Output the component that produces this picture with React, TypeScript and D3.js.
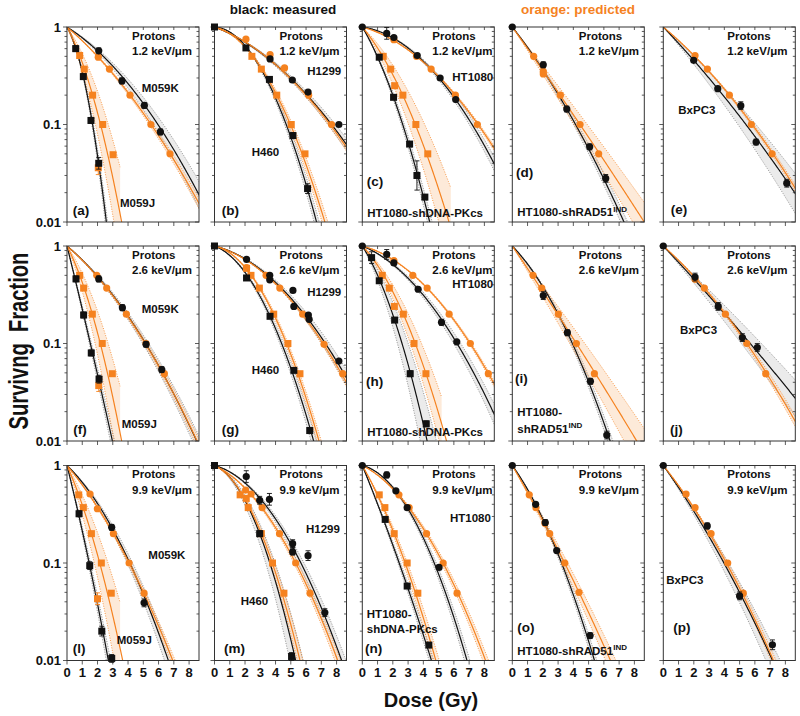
import React from "react";
import * as d3 from "d3";

// ---------------- data ----------------
const doseTicks = [0, 1, 2, 3, 4, 5, 6, 7, 8];
const sfMajor = [1, 0.1, 0.01];
const sfMajorLabels = ["1", "0.1", "0.01"];
const letValues = ["1.2", "2.6", "9.9"];
const panelLetters = ["a", "b", "c", "d", "e", "f", "g", "h", "i", "j", "l", "m", "n", "o", "p"];

// points: [dose Gy, surviving fraction, optional error half-length in log10]
// fits: [alpha, beta, relative band spread, band end dose] order: circle meas, circle pred, square meas, square pred

// (a) M059K (circles) / M059J (squares), 1.2 keV/um
const a_circMeas = [[2.08, 0.57, 0.03], [3.6, 0.28, 0.03], [5.07, 0.157, 0.03], [6.12, 0.084, 0.03]];
const a_circPred = [[2.05, 0.49], [2.78, 0.37], [4.13, 0.2], [5.5, 0.1], [6.75, 0.05]];
const a_sqMeas = [[0.57, 0.6, 0.03], [1.07, 0.31, 0.03], [1.57, 0.11, 0.03], [2.08, 0.04, 0.06]];
const a_sqPred = [[2.05, 0.036, 0.07], [0.83, 0.51], [1.13, 0.37], [1.68, 0.2], [2.34, 0.1], [3.02, 0.049]];
const a_fits = [[0.228, 0.0266, 0.08, 8.7], [0.306, 0.0203, 0.03, 8.7], [0.603, 0.458, 0.05, 8.7], [0.668, 0.1725, 0.25, 3.5]];

// (b) H1299 / H460
const b_circMeas = [[3.64, 0.47], [5.1, 0.286], [6.13, 0.215], [8.15, 0.1]];
const b_circPred = [[2.06, 0.75], [3.64, 0.52], [4.59, 0.38], [6.17, 0.2], [7.67, 0.1]];
const b_sqMeas = [[0, 1], [2.06, 0.61], [3.6, 0.29], [5.14, 0.077, 0.03], [6.1, 0.022, 0.05]];
const b_sqPred = [[2.45, 0.5], [3.07, 0.37], [4.08, 0.2], [5.03, 0.1], [5.93, 0.05]];
const b_fits = [[0.136, 0.0214, 0.05, 8.7], [0.13, 0.023, 0.03, 8.7], [0.02, 0.1, 0.05, 8.7], [0.08, 0.077, 0.05, 8.7]];

// (c) HT1080 / HT1080-shDNA-PKcs
const c_circMeas = [[0, 1], [1.6, 0.86, 0.06], [2.07, 0.78], [3.6, 0.51], [5.1, 0.3], [6.12, 0.18]];
const c_circPred = [[2.07, 0.74], [3.55, 0.5], [4.51, 0.37], [6.1, 0.2], [7.54, 0.1]];
const c_sqMeas = [[1.11, 0.49], [2.05, 0.19], [3.1, 0.063], [3.58, 0.03, 0.15], [4.1, 0.018]];
const c_sqPred = [[1.37, 0.5], [1.86, 0.37], [2.12, 0.25], [2.66, 0.2], [3.51, 0.1], [4.29, 0.05]];
const c_fits = [[0.054, 0.037, 0.05, 8.7], [0.1, 0.0268, 0.02, 8.7], [0.61, 0.098, 0.05, 8.7], [0.43, 0.067, 0.2, 5.8]];

// (d) HT1080-shRAD51IND
const d_circMeas = [[0, 1], [2.03, 0.41, 0.03], [3.57, 0.144, 0.03], [5.07, 0.059, 0.03], [6.12, 0.028, 0.04]];
const d_circPred = [[1.4, 0.5], [2.03, 0.35], [2.03, 0.33], [3.15, 0.2], [4.44, 0.1], [5.66, 0.05]];
const d_fits = [[0.46, 0.0231, 0.04, 8.7], [0.505, 0.0032, 0.1, 8.7]];

// (e) BxPC3
const e_circMeas = [[1.99, 0.455], [3.57, 0.233], [5.08, 0.156, 0.04], [6.08, 0.066, 0.03], [8.09, 0.025, 0.04]];
const e_circPred = [[2.08, 0.51], [2.89, 0.37], [4.33, 0.2], [5.77, 0.1], [7.13, 0.05]];
const e_fits = [[0.376, 0.0091, 0.12, 8.7], [0.302, 0.016, 0.02, 8.7]];

// (f) M059K / M059J, 2.6 keV/um
const f_circMeas = [[2.08, 0.46, 0.03], [3.63, 0.233, 0.03], [5.18, 0.098, 0.03], [6.21, 0.054, 0.03]];
const f_circPred = [[1.95, 0.5], [2.6, 0.37], [3.89, 0.2], [5.18, 0.1], [6.38, 0.049]];
const f_sqMeas = [[0.59, 0.46, 0.03], [1.09, 0.196, 0.03], [1.59, 0.08, 0.03], [2.1, 0.043, 0.04]];
const f_sqPred = [[2.08, 0.037, 0.06], [0.83, 0.5], [1.09, 0.37], [1.66, 0.2], [2.31, 0.1], [2.97, 0.049]];
const f_fits = [[0.302, 0.0282, 0.05, 8.7], [0.31, 0.027, 0.03, 8.7], [1.46, 0.0296, 0.05, 8.7], [0.695, 0.165, 0.25, 3.5]];

// (g) H1299 / H460
const g_circMeas = [[2.1, 0.73], [3.62, 0.5], [3.62, 0.45], [5.14, 0.35], [5.2, 0.24], [6.15, 0.196], [6.2, 0.177], [8.15, 0.066]];
const g_circPred = [[2.1, 0.6], [3.38, 0.5], [4.28, 0.37], [5.78, 0.2], [7.18, 0.098], [8.4, 0.049]];
const g_sqMeas = [[0, 1], [2.1, 0.47], [3.64, 0.19], [5.2, 0.053], [6.24, 0.0128, 0.03]];
const g_sqPred = [[2.1, 0.59], [2.39, 0.5], [2.94, 0.37], [3.88, 0.2], [4.81, 0.1], [5.6, 0.049]];
const g_fits = [[0.09, 0.0312, 0.06, 8.7], [0.093, 0.0324, 0.03, 8.7], [0.135, 0.0883, 0.05, 8.7], [0.078, 0.0868, 0.04, 8.7]];

// (h) HT1080 / HT1080-shDNA-PKcs
const h_circMeas = [[0, 1], [1.6, 0.82, 0.05], [2.07, 0.67], [3.66, 0.36], [5.19, 0.165, 0.03], [6.19, 0.104]];
const h_circPred = [[2.07, 0.71], [3.31, 0.5], [4.25, 0.37], [5.69, 0.2], [7.08, 0.1], [8.26, 0.049]];
const h_sqMeas = [[0.61, 0.76, 0.06], [1.11, 0.44], [2.12, 0.174], [3.14, 0.049, 0.03], [4.19, 0.015, 0.03]];
const h_sqPred = [[1.31, 0.5], [1.77, 0.37], [2.1, 0.24], [2.69, 0.2], [3.39, 0.1], [4.17, 0.049]];
const h_fits = [[0.145, 0.0364, 0.06, 8.7], [0.096, 0.0325, 0.02, 8.7], [0.569, 0.121, 0.18, 8.7], [0.374, 0.0834, 0.15, 5.2]];

// (i) HT1080-shRAD51IND
const i_circMeas = [[2.03, 0.31, 0.04], [3.61, 0.129, 0.03], [5.12, 0.041, 0.03], [6.19, 0.0115, 0.04]];
const i_circPred = [[1.36, 0.5], [1.93, 0.37], [3.02, 0.2], [4.2, 0.1], [5.38, 0.049]];
const i_fits = [[0.372, 0.054, 0.04, 8.7], [0.53, 0.00426, 0.12, 8.7]];

// (j) BxPC3
const j_circMeas = [[0, 1], [2.08, 0.48, 0.04], [3.6, 0.24, 0.04], [5.18, 0.115, 0.04], [6.16, 0.091, 0.04]];
const j_circPred = [[2.08, 0.455], [2.69, 0.37], [4.07, 0.2], [5.47, 0.1], [6.71, 0.049]];
const j_fits = [[0.382, 0.0039, 0.12, 8.7], [0.32, 0.0184, 0.03, 8.7]];

// (l) M059K / M059J, 9.9 keV/um
const l_circMeas = [[2.93, 0.232, 0.03], [5.05, 0.039, 0.04]];
const l_circPred = [[1.51, 0.51], [1.99, 0.36], [3.04, 0.2], [4.07, 0.1], [5.05, 0.049]];
const l_sqMeas = [[0.79, 0.32, 0.03], [1.49, 0.094, 0.04], [2.28, 0.02, 0.05], [2.93, 0.0105, 0.04]];
const l_sqPred = [[2.0, 0.043, 0.06], [0.77, 0.5], [1.07, 0.37], [1.6, 0.2], [2.25, 0.1], [2.9, 0.049]];
const l_fits = [[0.344, 0.0526, 0.06, 8.7], [0.425, 0.0345, 0.03, 8.7], [1.45, 0.092, 0.06, 8.7], [0.806, 0.125, 0.25, 3.5]];

// (m) H1299 / H460
const m_circMeas = [[2.08, 0.77, 0.06], [2.96, 0.44, 0.04], [3.6, 0.45, 0.06], [5.12, 0.158, 0.04], [5.12, 0.13, 0.03], [6.13, 0.119, 0.05], [7.23, 0.031, 0.04]];
const m_circPred = [[2.04, 0.56], [2.4, 0.51], [3.12, 0.37], [4.26, 0.2], [5.32, 0.1], [6.26, 0.049]];
const m_sqMeas = [[0, 1], [2.96, 0.2, 0.03], [5.05, 0.011, 0.04]];
const m_sqPred = [[1.68, 0.5], [2.08, 0.46], [2.21, 0.37], [3.07, 0.2], [3.8, 0.1], [4.55, 0.049]];
const m_fits = [[0.097, 0.0547, 0.06, 8.7], [0.167, 0.05, 0.04, 8.7], [0.14, 0.1365, 0.15, 8.7], [0.163, 0.1176, 0.06, 8.7]];

// (n) HT1080 / HT1080-shDNA-PKcs
const n_circMeas = [[0, 1], [1.6, 0.8, 0.03], [2.2, 0.55], [2.94, 0.37], [5.03, 0.09]];
const n_circPred = [[2.4, 0.5], [3.07, 0.37], [4.21, 0.2], [5.3, 0.1], [6.21, 0.049]];
const n_sqMeas = [[1.5, 0.28], [2.94, 0.058], [4.36, 0.0144]];
const n_sqPred = [[1.11, 0.5], [1.48, 0.37], [2.09, 0.2], [2.94, 0.1], [3.64, 0.049]];
const n_fits = [[0.088, 0.085, 0.05, 8.7], [0.179, 0.0484, 0.04, 8.7], [0.879, 0.0303, 0.04, 8.7], [0.628, 0.068, 0.06, 8.7]];

// (o) HT1080-shRAD51IND
const o_circMeas = [[0, 1], [1.53, 0.4], [2.16, 0.26, 0.03], [2.91, 0.134], [5.1, 0.018, 0.03]];
const o_circPred = [[1.11, 0.5], [1.55, 0.37], [2.14, 0.255], [2.45, 0.2], [3.44, 0.1], [4.37, 0.05]];
const o_fits = [[0.5, 0.066, 0.04, 8.7], [0.62, 0.0149, 0.06, 8.7]];

// (p) BxPC3
const p_circMeas = [[0, 1], [2.88, 0.24, 0.03], [5.0, 0.046, 0.04], [7.15, 0.0145, 0.05]];
const p_circPred = [[1.49, 0.51], [2.08, 0.37], [3.13, 0.2], [4.22, 0.1], [5.24, 0.049]];
const p_fits = [[0.5, 0.02, 0.08, 8.7], [0.45, 0.026, 0.03, 8.7]];

// ---------------- layout / style ----------------
const ORANGE = "#F5821F";
const BLACK = "#111111";
const FONT = "'Liberation Sans', Arial, Helvetica, sans-serif";
const COL_X = [67, 214.5, 362.3, 512.3, 663.3];
const ROW_Y = [27, 246, 465.5];
const PW = 132;
const PH = 195;
const XMAX = 8.65;

type Label = { t: string; x: number; y: number; sup?: string };
type PanelDef = {
  row: number;
  col: number;
  circMeas: number[][];
  circPred: number[][];
  sqMeas?: number[][];
  sqPred?: number[][];
  fits: number[][];
  letterPos: [number, number];
  labels: Label[];
  letX: number;
};

const panels: PanelDef[] = [
  { row: 0, col: 0, circMeas: a_circMeas, circPred: a_circPred, sqMeas: a_sqMeas, sqPred: a_sqPred, fits: a_fits, letterPos: [5.7, 188], labels: [{ t: "M059K", x: 74.7, y: 64.5 }, { t: "M059J", x: 53, y: 179.5 }], letX: 65 },
  { row: 0, col: 1, circMeas: b_circMeas, circPred: b_circPred, sqMeas: b_sqMeas, sqPred: b_sqPred, fits: b_fits, letterPos: [7.2, 188], labels: [{ t: "H1299", x: 92.8, y: 48 }, { t: "H460", x: 37.2, y: 129 }], letX: 65 },
  { row: 0, col: 2, circMeas: c_circMeas, circPred: c_circPred, sqMeas: c_sqMeas, sqPred: c_sqPred, fits: c_fits, letterPos: [4.4, 159], labels: [{ t: "HT1080", x: 90, y: 54 }, { t: "HT1080-shDNA-PKcs", x: 5, y: 190 }], letX: 70 },
  { row: 0, col: 3, circMeas: d_circMeas, circPred: d_circPred, fits: d_fits, letterPos: [3.7, 150], labels: [{ t: "HT1080-shRAD51", sup: "IND", x: 5, y: 189 }], letX: 66.5 },
  { row: 0, col: 4, circMeas: e_circMeas, circPred: e_circPred, fits: e_fits, letterPos: [7.4, 186.5], labels: [{ t: "BxPC3", x: 15, y: 87 }], letX: 64 },
  { row: 1, col: 0, circMeas: f_circMeas, circPred: f_circPred, sqMeas: f_sqMeas, sqPred: f_sqPred, fits: f_fits, letterPos: [6.3, 188], labels: [{ t: "M059K", x: 74.7, y: 66.5 }, { t: "M059J", x: 54.7, y: 182 }], letX: 65 },
  { row: 1, col: 1, circMeas: g_circMeas, circPred: g_circPred, sqMeas: g_sqMeas, sqPred: g_sqPred, fits: g_fits, letterPos: [7.2, 188], labels: [{ t: "H1299", x: 92.8, y: 50 }, { t: "H460", x: 37.2, y: 128 }], letX: 65 },
  { row: 1, col: 2, circMeas: h_circMeas, circPred: h_circPred, sqMeas: h_sqMeas, sqPred: h_sqPred, fits: h_fits, letterPos: [3.7, 140], labels: [{ t: "HT1080", x: 90, y: 42 }, { t: "HT1080-shDNA-PKcs", x: 5, y: 190 }], letX: 70 },
  { row: 1, col: 3, circMeas: i_circMeas, circPred: i_circPred, fits: i_fits, letterPos: [2.7, 136.5], labels: [{ t: "HT1080-", x: 5, y: 170 }, { t: "shRAD51", sup: "IND", x: 5, y: 186.5 }], letX: 66.5 },
  { row: 1, col: 4, circMeas: j_circMeas, circPred: j_circPred, fits: j_fits, letterPos: [6.7, 188], labels: [{ t: "BxPC3", x: 16.7, y: 88 }], letX: 64 },
  { row: 2, col: 0, circMeas: l_circMeas, circPred: l_circPred, sqMeas: l_sqMeas, sqPred: l_sqPred, fits: l_fits, letterPos: [5.7, 187], labels: [{ t: "M059K", x: 81.3, y: 93.5 }, { t: "M059J", x: 49.7, y: 178.5 }], letX: 65 },
  { row: 2, col: 1, circMeas: m_circMeas, circPred: m_circPred, sqMeas: m_sqMeas, sqPred: m_sqPred, fits: m_fits, letterPos: [9.5, 187], labels: [{ t: "H1299", x: 91.5, y: 67 }, { t: "H460", x: 26.2, y: 139.2 }], letX: 65 },
  { row: 2, col: 2, circMeas: n_circMeas, circPred: n_circPred, sqMeas: n_sqMeas, sqPred: n_sqPred, fits: n_fits, letterPos: [2.7, 187], labels: [{ t: "HT1080", x: 87.7, y: 56 }, { t: "HT1080-", x: 4.5, y: 152 }, { t: "shDNA-PKcs", x: 4.5, y: 167.5 }], letX: 70 },
  { row: 2, col: 3, circMeas: o_circMeas, circPred: o_circPred, fits: o_fits, letterPos: [5, 166], labels: [{ t: "HT1080-shRAD51", sup: "IND", x: 5, y: 189 }], letX: 66.5 },
  { row: 2, col: 4, circMeas: p_circMeas, circPred: p_circPred, fits: p_fits, letterPos: [10, 166.5], labels: [{ t: "BxPC3", x: 3, y: 118.5 }], letX: 64 },
];

const minorDecade = [2, 3, 4, 5, 6, 7, 8, 9];

function lqLog(fit: number[], d: number, k: number) {
  return Math.max(1e-4, Math.exp(-k * (fit[0] * d + fit[1] * d * d)));
}

function Panel({ p, idx }: { p: PanelDef; idx: number }) {
  const L = COL_X[p.col];
  const T = ROW_Y[p.row];
  const x = d3.scaleLinear().domain([0, XMAX]).range([L, L + PW]);
  const y = d3.scaleLog().domain([1, 0.01]).range([T, T + PH]);
  const clipId = `clip-${idx}`;

  const series: { pts?: number[][]; fit: number[]; pred: boolean; sq: boolean }[] = [
    { pts: p.circMeas, fit: p.fits[0], pred: false, sq: false },
    { pts: p.circPred, fit: p.fits[1], pred: true, sq: false },
  ];
  if (p.sqMeas) {
    series.push({ pts: p.sqMeas, fit: p.fits[2], pred: false, sq: true });
    series.push({ pts: p.sqPred, fit: p.fits[3], pred: true, sq: true });
  }

  const mkLine = (fit: number[], k: number, end: number) => {
    const ds = d3.range(0, Math.min(end, XMAX + 0.3) + 1e-6, 0.04);
    return d3
      .line<number>()
      .x((d) => x(d))
      .y((d) => y(lqLog(fit, d, k)))(ds) as string;
  };
  const mkArea = (fit: number[]) => {
    const s = fit[2];
    const end = Math.min(fit[3], XMAX + 0.3);
    const ds = d3.range(0, end + 1e-6, 0.04);
    return d3
      .area<number>()
      .x((d) => x(d))
      .y0((d) => y(lqLog(fit, d, 1 + s)))
      .y1((d) => y(lqLog(fit, d, 1 - s)))(ds) as string;
  };

  const bottom = T + PH;
  const right = L + PW;

  const yTicks: { v: number; major: boolean }[] = [];
  [1, 0.1].forEach((dec) => {
    yTicks.push({ v: dec, major: true });
    minorDecade.forEach((m) => yTicks.push({ v: (dec / 10) * m, major: false }));
  });
  yTicks.push({ v: 0.01, major: true });

  const ordered = [...series.filter((s) => !s.pred), ...series.filter((s) => s.pred)];

  return (
    <g>
      <defs>
        <clipPath id={clipId}>
          <rect x={L} y={T} width={PW} height={PH} />
        </clipPath>
      </defs>
      <g clipPath={`url(#${clipId})`}>
        {ordered.map((s, i) => (
          <path key={`band${i}`} d={mkArea(s.fit)} fill={s.pred ? "#FCDCC0" : "#DEDEDE"} fillOpacity={0.6} stroke="none" />
        ))}
        {ordered.map((s, i) => (
          <g key={`bl${i}`}>
            <path d={mkLine(s.fit, 1 + s.fit[2], s.fit[3])} fill="none" stroke={s.pred ? ORANGE : "#777"} strokeWidth={0.8} strokeDasharray="1,1.5" />
            <path d={mkLine(s.fit, 1 - s.fit[2], s.fit[3])} fill="none" stroke={s.pred ? ORANGE : "#777"} strokeWidth={0.8} strokeDasharray="1,1.5" />
          </g>
        ))}
        {ordered.map((s, i) => (
          <path key={`ln${i}`} d={mkLine(s.fit, 1, XMAX + 0.3)} fill="none" stroke={s.pred ? ORANGE : BLACK} strokeWidth={1.2} />
        ))}
      </g>
      <rect x={L} y={T} width={PW} height={PH} fill="none" stroke="#333" strokeWidth={1} />
      {yTicks.map((t, i) => {
        const yy = y(t.v);
        const len = t.major ? 4 : 2.5;
        return (
          <g key={`yt${i}`} stroke="#333" strokeWidth={0.8}>
            <line x1={L - len} x2={L} y1={yy} y2={yy} />
            <line x1={right} x2={right - len} y1={yy} y2={yy} />
          </g>
        );
      })}
      {doseTicks.map((d) => (
        <g key={`xt${d}`} stroke="#333" strokeWidth={0.8}>
          <line x1={x(d)} x2={x(d)} y1={bottom} y2={bottom + 4} />
          <line x1={x(d)} x2={x(d)} y1={T} y2={T + 3} />
        </g>
      ))}
      {p.col === 0 &&
        sfMajor.map((v, i) => (
          <text key={`yl${i}`} x={L - 6} y={y(v) + 4.5} textAnchor="end" fontFamily={FONT} fontWeight="bold" fontSize={13} fill="#111">
            {sfMajorLabels[i]}
          </text>
        ))}
      {p.row === 2 &&
        doseTicks.map((d) => (
          <text key={`xl${d}`} x={x(d)} y={bottom + 16} textAnchor="middle" fontFamily={FONT} fontWeight="bold" fontSize={13} fill="#111">
            {d}
          </text>
        ))}
      {[...series.filter((s) => s.pred), ...series.filter((s) => !s.pred)].map((s, si) => (
        <g key={`m${si}`} fill={s.pred ? ORANGE : BLACK}>
          {(s.pts || []).map((pt, j) => {
            const cx = x(pt[0]);
            const cy = y(pt[1]);
            const err = pt[2];
            const col = s.pred ? ORANGE : BLACK;
            return (
              <g key={j}>
                {err ? (
                  <g stroke={col} strokeWidth={0.9}>
                    <line x1={cx} x2={cx} y1={y(pt[1] * Math.pow(10, err))} y2={y(pt[1] / Math.pow(10, err))} />
                    <line x1={cx - 2.5} x2={cx + 2.5} y1={y(pt[1] * Math.pow(10, err))} y2={y(pt[1] * Math.pow(10, err))} />
                    <line x1={cx - 2.5} x2={cx + 2.5} y1={y(pt[1] / Math.pow(10, err))} y2={y(pt[1] / Math.pow(10, err))} />
                  </g>
                ) : null}
                {s.sq ? <rect x={cx - 3.5} y={cy - 3.5} width={7} height={7} /> : <circle cx={cx} cy={cy} r={3.6} />}
              </g>
            );
          })}
        </g>
      ))}
      <text x={L + p.letX} y={T + 12.5} fontFamily={FONT} fontWeight="bold" fontSize={11.5} fill="#111">
        Protons
      </text>
      <text x={L + p.letX} y={T + 28} fontFamily={FONT} fontWeight="bold" fontSize={11.5} fill="#111">
        {`${letValues[p.row]} keV/\u03BCm`}
      </text>
      {p.labels.map((lb, i) => (
        <text key={`lb${i}`} x={L + lb.x} y={T + lb.y} fontFamily={FONT} fontWeight="bold" fontSize={11.5} fill="#111">
          {lb.t}
          {lb.sup ? (
            <tspan dy={-4.5} fontSize={8}>
              {lb.sup}
            </tspan>
          ) : null}
        </text>
      ))}
      <text x={L + p.letterPos[0]} y={T + p.letterPos[1]} fontFamily={FONT} fontWeight="bold" fontSize={13.5} fill="#111">
        {`(${panelLetters[idx]})`}
      </text>
    </g>
  );
}

export default function App() {
  return (
    <svg width={800} height={716} viewBox="0 0 800 716" style={{ display: "block", position: "absolute", left: 0, top: 0, background: "#fff" }}>
      <rect x={0} y={0} width={800} height={716} fill="#fff" />
      <text x={283} y={14} textAnchor="middle" fontFamily={FONT} fontWeight="bold" fontSize={13.5} fill="#111">
        black: measured
      </text>
      <text x={578} y={14} textAnchor="middle" fontFamily={FONT} fontWeight="bold" fontSize={13.5} fill={ORANGE}>
        orange: predicted
      </text>
      {panels.map((p, i) => (
        <Panel key={i} p={p} idx={i} />
      ))}
      <text x={431} y={707} textAnchor="middle" fontFamily={FONT} fontWeight="bold" fontSize={20} fill="#111">
        Dose (Gy)
      </text>
      <text transform="translate(28,341) rotate(-90) scale(0.72,1)" textAnchor="middle" fontFamily={FONT} fontWeight="bold" fontSize={28} fill="#111" style={{ whiteSpace: "pre" }}>
        {"Survivng  Fraction"}
      </text>
    </svg>
  );
}
